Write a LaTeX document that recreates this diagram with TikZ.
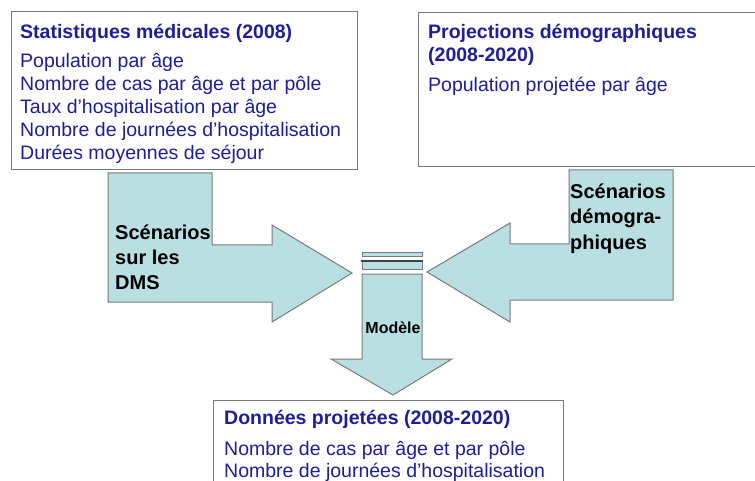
\documentclass[tikz,border=0pt]{standalone}
\usepackage{fontspec}
\setmainfont{Liberation Sans}
\definecolor{navy}{HTML}{1E1E9C}
\definecolor{cyanfill}{HTML}{B9DFE3}
\definecolor{edge}{HTML}{7A7A7A}
\tikzset{
  panel/.style={draw=edge, line width=1pt, fill=white},
  blockarrow/.style={draw=edge, line width=1pt, fill=cyanfill, line join=miter},
  boxtitle/.style={anchor=base west, inner sep=0pt, text=navy, font=\fontsize{19.5}{23}\selectfont\bfseries},
  boxline/.style={anchor=base west, inner sep=0pt, text=navy, font=\fontsize{19.5}{23}\selectfont},
  arrowtxt/.style={anchor=base west, inner sep=0pt, text=black, font=\fontsize{20}{24}\selectfont\bfseries},
}
\begin{document}
\begin{tikzpicture}[x=1pt,y=-1pt]
\useasboundingbox (0,0) rectangle (755,481);
\clip (0,0) rectangle (755,481);
\fill[white] (0,0) rectangle (755,481);
% panels
\draw[panel] (11,12) rectangle (357,170);
\draw[panel] (418,13) rectangle (770,167);
\draw[panel] (213,400) rectangle (563,500);
% left bent arrow
\draw[blockarrow] (108,173) -- (212,173) -- (212,245) -- (272,245) -- (272,225)
  -- (352,273) -- (272,322) -- (272,302) -- (108,302) -- cycle;
% right bent arrow
\draw[blockarrow] (673,170) -- (569,170) -- (569,244) -- (510,244) -- (510,223)
  -- (427,272) -- (510,322) -- (510,300) -- (673,300) -- cycle;
% model bars
\draw[blockarrow] (362,252) rectangle (422,256);
\draw[blockarrow] (362,261) rectangle (422,269);
\draw[line width=2pt, draw=black!75] (361,260.5) -- (423,260.5);
% down arrow
\draw[blockarrow] (362,274) -- (422,274) -- (422,359) -- (452,359) -- (393,395)
  -- (331,359) -- (362,359) -- cycle;
% texts box 1
\node[boxtitle] (t1) at (20,39) {Statistiques médicales (2008)};
\node[boxline] (l11) at (20,68) {Population par âge};
\node[boxline] (l12) at (20,91) {Nombre de cas par âge et par pôle};
\node[boxline] (l13) at (20,114) {Taux d’hospitalisation par âge};
\node[boxline] (l14) at (20,137) {Nombre de journées d’hospitalisation};
\node[boxline] (l15) at (20,160) {Durées moyennes de séjour};
% texts box 2
\node[boxtitle] (t2) at (428,39) {Projections démographiques};
\node[boxtitle] (t2b) at (428,62) {(2008-2020)};
\node[boxline] (l21) at (428,92) {Population projetée par âge};
% texts box 3
\node[boxtitle] (t3) at (224,424) {Données projetées (2008-2020)};
\node[boxline] (l31) at (224,455) {Nombre de cas par âge et par pôle};
\node[boxline] (l32) at (224,477) {Nombre de journées d’hospitalisation};
% arrow labels
\node[arrowtxt] (a1) at (115,240) {Scénarios};
\node[arrowtxt] (a2) at (115,265) {sur les};
\node[arrowtxt] (a3) at (115,289) {DMS};
\node[arrowtxt] (b1) at (570,199) {Scénarios};
\node[arrowtxt] (b2) at (570,224) {démogra-};
\node[arrowtxt] (b3) at (570,249) {phiques};
\node[anchor=base, inner sep=0pt, font=\fontsize{16}{18}\selectfont\bfseries] (m) at (393,333) {Modèle};
\end{tikzpicture}
\end{document}
